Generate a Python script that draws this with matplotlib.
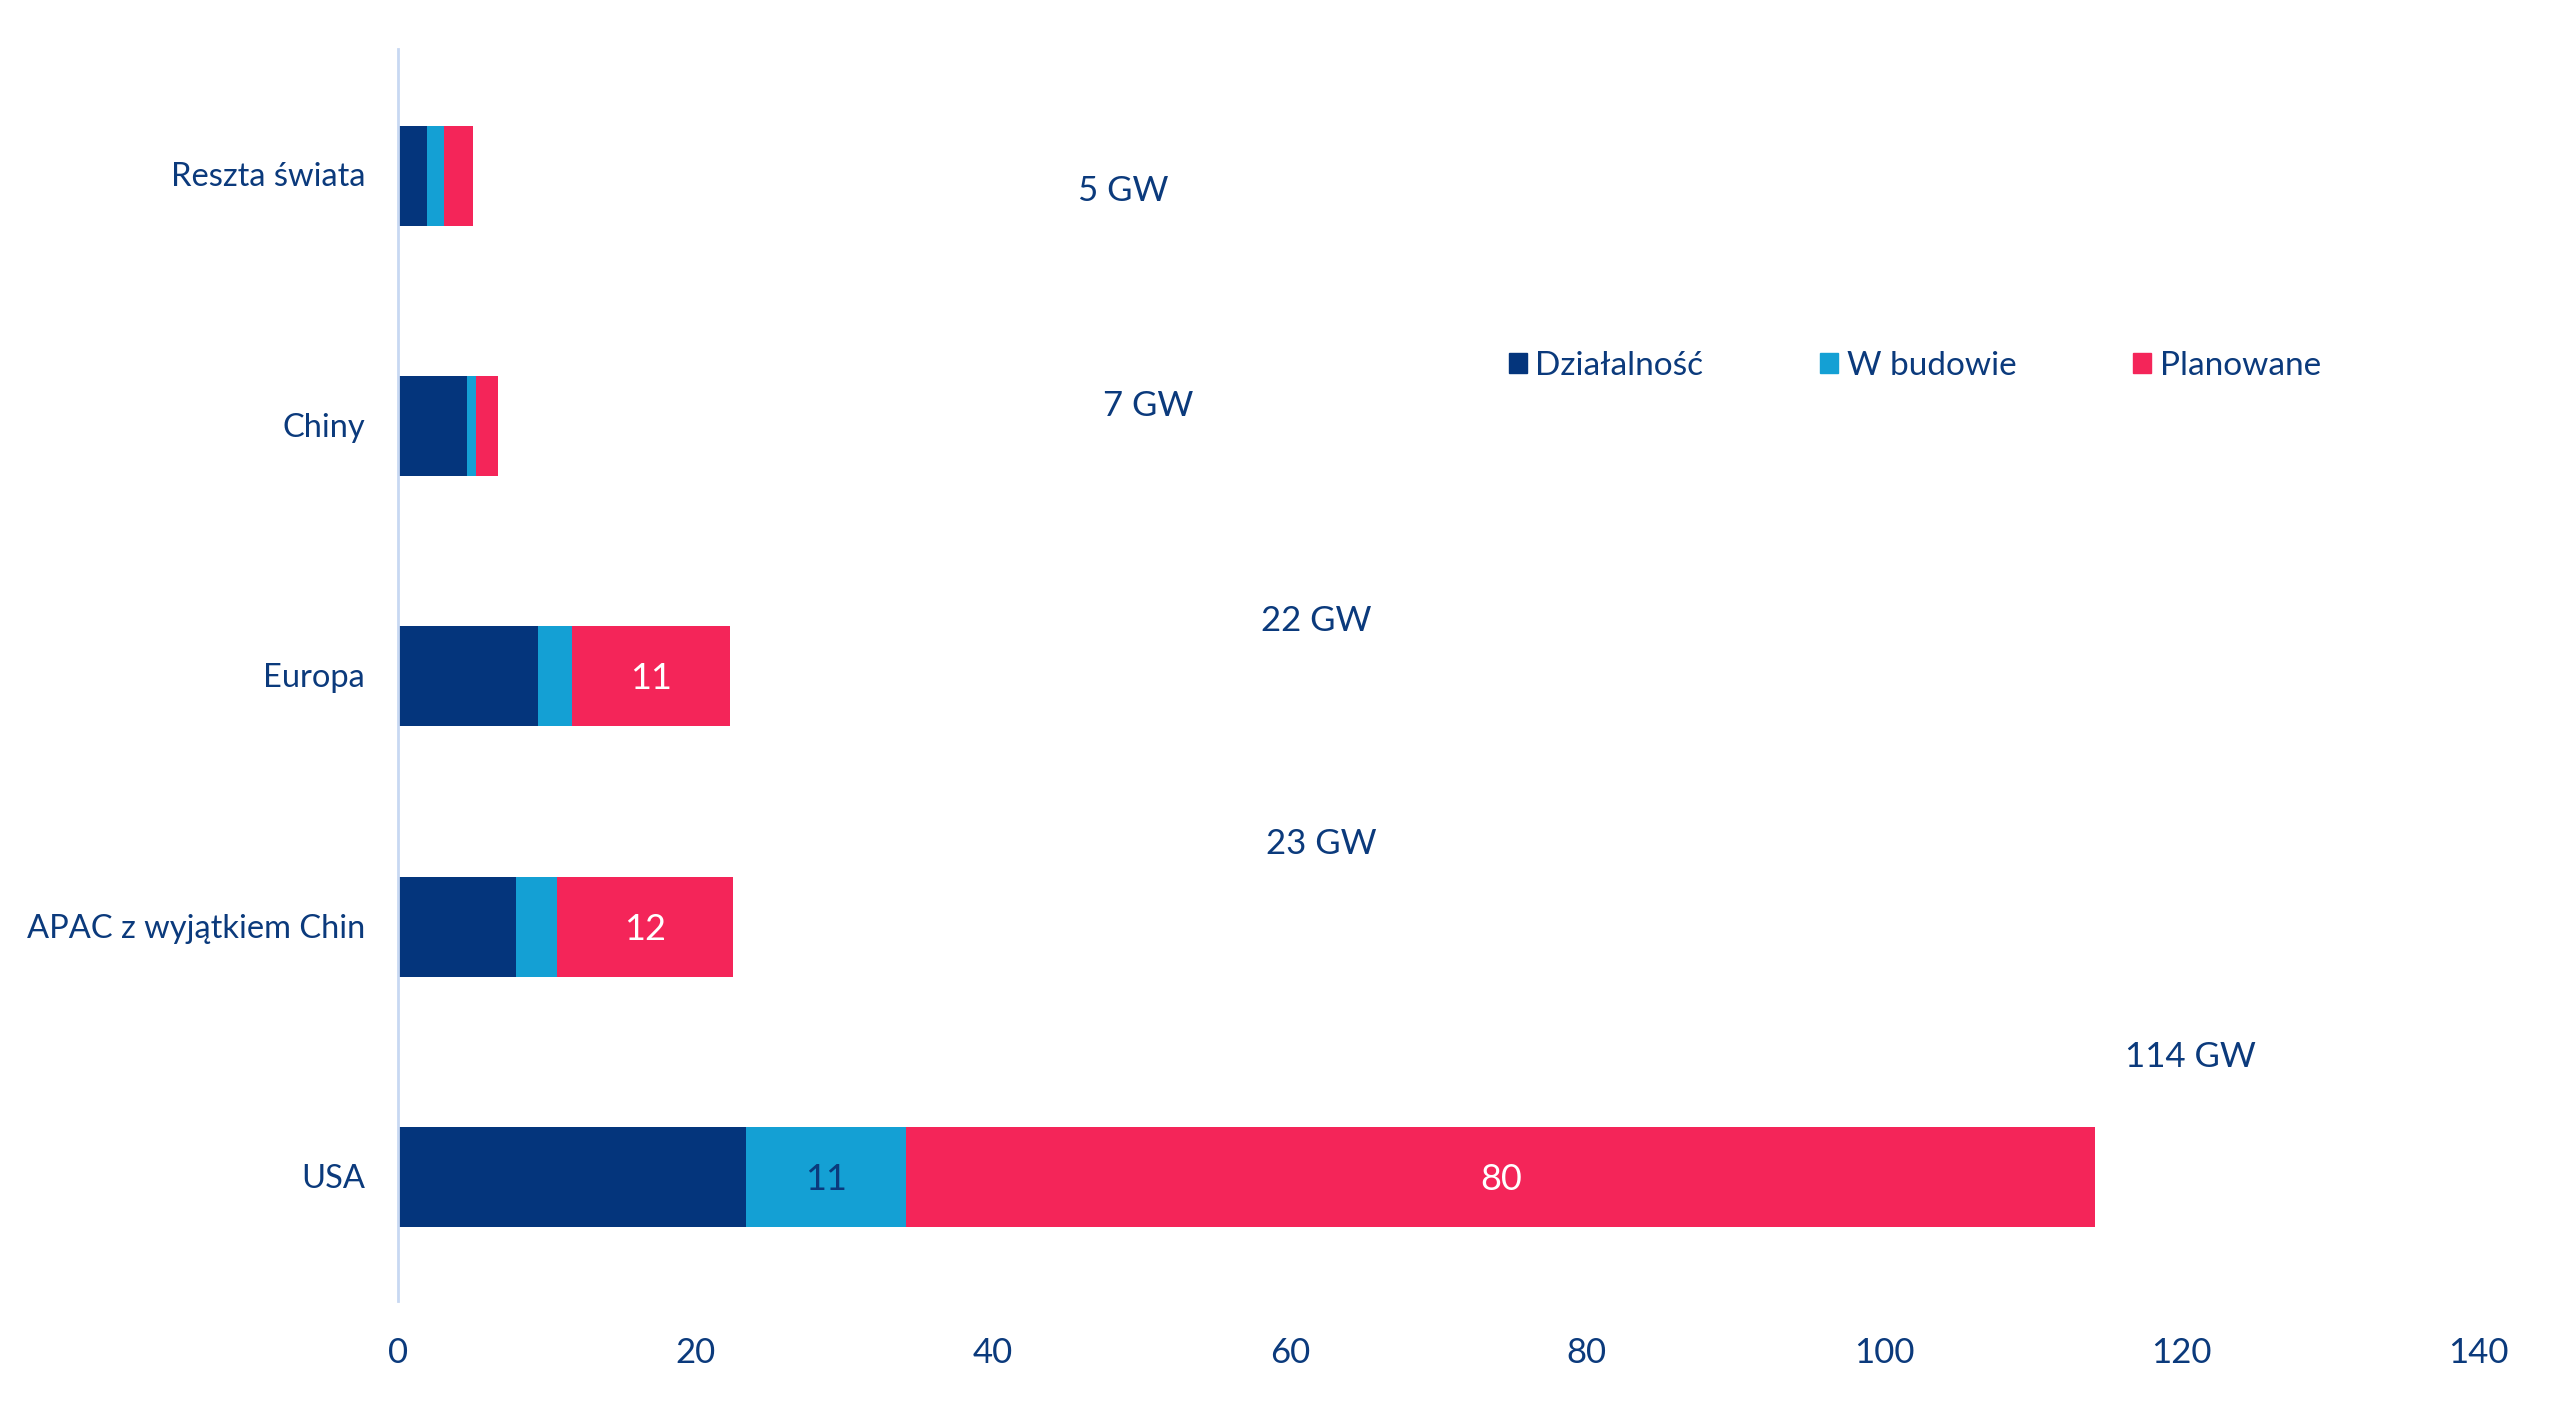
import numpy as np
import matplotlib.pyplot as plt
from matplotlib.patches import Patch

plt.rcParams['font.family'] = ['Lato', 'DejaVu Sans']

# data (bottom to top)
regions = ['USA', 'APAC z wyjątkiem Chin', 'Europa', 'Chiny', 'Reszta świata']
dzialalnosc = [23.4, 7.9, 9.4, 4.6, 1.9]
w_budowie = [10.8, 2.8, 2.3, 0.6, 1.2]
planowane = [80.0, 11.8, 10.6, 1.5, 1.9]
totals = [114, 23, 22, 7, 5]
series_names = ['Działalność', 'W budowie', 'Planowane']
xticks = [0, 20, 40, 60, 80, 100, 120, 140]

# where the "GW" totals sit (odd layout in the original)
total_x = [120.6, 62.1, 61.8, 50.5, 48.8]
total_dy = [0.475, 0.325, 0.215, 0.075, -0.065]

navy = '#04357c'
light = '#14a0d4'
pink = '#f42559'
txt = '#0b3a7c'

fig = plt.figure(figsize=(25.6, 14.07), dpi=100)
ax = fig.add_axes([0.1556, 0.0753, 0.8125, 0.8897])

y = np.arange(len(regions))
h = 0.4
d = np.array(dzialalnosc)
w = np.array(w_budowie)
p = np.array(planowane)
ax.barh(y - 0.005, d, h, color=navy)
ax.barh(y - 0.005, w, h, left=d, color=light)
ax.barh(y - 0.005, p, h, left=d + w, color=pink)

# segment labels only where there is room
for i in range(len(regions)):
    if w[i] >= 10:
        ax.text(d[i] + w[i] / 2, y[i] - 0.015, f'{w[i]:.0f}', ha='center', va='center',
                fontsize=26, color=txt)
    if p[i] >= 10:
        ax.text(d[i] + w[i] + p[i] / 2, y[i] - 0.015, f'{p[i]:.0f}', ha='center', va='center',
                fontsize=26, color='white')
    ax.text(total_x[i], y[i] + total_dy[i], f'{totals[i]} GW', ha='center', va='center',
            fontsize=25, color=txt)

ax.set_xlim(0, 140)
ax.set_ylim(-0.5, 4.5)
ax.set_xticks(xticks)
ax.set_yticks(y)
ax.set_yticklabels(regions)
ax.tick_params(axis='x', length=0, pad=26, labelsize=25, labelcolor=txt)
ax.tick_params(axis='y', length=0, pad=24, labelsize=23.5, labelcolor=txt)
for s in ['top', 'right', 'bottom']:
    ax.spines[s].set_visible(False)
ax.spines['left'].set_color('#c8d8f2')
ax.spines['left'].set_linewidth(2)

handles = [Patch(color=c) for c in [navy, light, pink]]
leg = ax.legend(handles, series_names, ncol=3, loc='center', bbox_to_anchor=(0.729, 0.747),
                frameon=False, fontsize=24, handlelength=0.55, handleheight=0.55,
                handletextpad=0.25, columnspacing=3.5)
for t in leg.get_texts():
    t.set_color(txt)

fig.savefig('out.png', dpi=100, facecolor='white')
